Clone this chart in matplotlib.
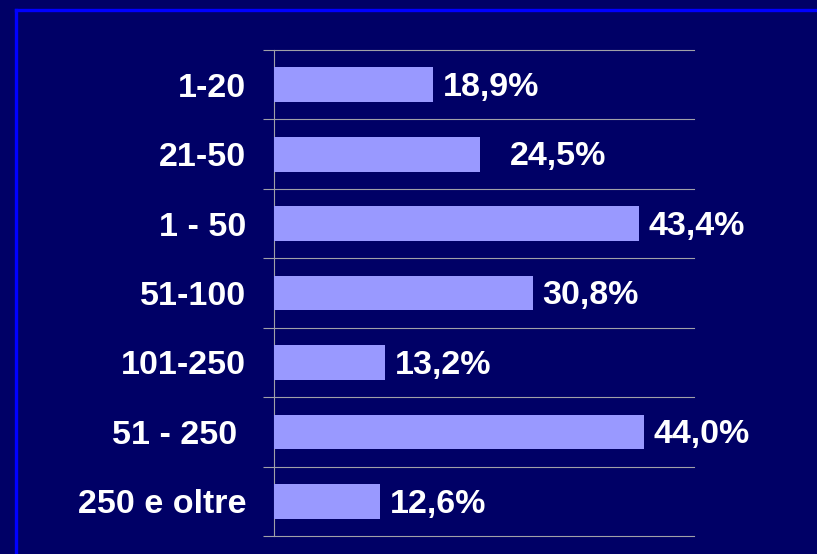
"""
Horizontal bar chart of share by size class, dark slide style
"""
import numpy as np
import matplotlib
matplotlib.use('Agg')
import matplotlib.pyplot as plt
from matplotlib.lines import Line2D

categories = ['1-20', '21-50', '1 - 50', '51-100', '101-250', '51 - 250 ', '250 e oltre']
values = [18.9, 24.5, 43.4, 30.8, 13.2, 44.0, 12.6]
value_labels = ['18,9%', '24,5%', '43,4%', '30,8%', '13,2%', '44,0%', '12,6%']

# label offsets in points (24,5% sits further right in the original)
label_offsets = [7, 22, 7, 7, 7, 7, 7]

bg = '#000066'
bar_color = '#9999ff'
line_color = '#a0a0a8'

plt.rcParams['font.family'] = ['Liberation Sans', 'DejaVu Sans']
plt.rcParams['font.weight'] = 'bold'

fig = plt.figure(figsize=(8.17, 5.54), dpi=100, facecolor=bg)
W, H = 817, 554
ax = fig.add_axes([274 / W, 18 / H, 420 / W, 486 / H], facecolor=bg)

y = np.arange(len(categories))
ax.barh(y, values, height=0.5, color=bar_color, zorder=3)

for yi, v, lab, off in zip(y, values, value_labels, label_offsets):
    ax.annotate(lab, (v, yi), xytext=(off, -2), textcoords='offset points',
                ha='left', va='center', color='white', fontsize=24.5, fontweight='bold')

ax.set_xlim(0, 50)
ax.set_ylim(len(categories) - 0.5, -0.5)
ax.set_xticks([])
ax.set_yticks(y)
ax.set_yticklabels(categories, color='white', fontsize=24.5, fontweight='bold')
ax.set_yticks(np.arange(len(categories) + 1) - 0.5, minor=True)
ax.tick_params(axis='y', which='major', length=0, pad=20)
ax.tick_params(axis='y', which='minor', length=8, width=0.8, color=line_color, direction='out')
ax.grid(axis='y', which='minor', color=line_color, linewidth=0.8, zorder=1)
ax.grid(axis='y', which='major', visible=False)
for t in ax.yaxis.get_minor_ticks():
    t.gridline.set_clip_on(False)

for side in ['top', 'right', 'bottom']:
    ax.spines[side].set_visible(False)
ax.spines['left'].set_color(line_color)
ax.spines['left'].set_linewidth(0.8)

# blue slide frame (top and left edges visible)
fig.add_artist(Line2D([16 / W, 16 / W], [1 - 10 / H, 0], color='#0000ff', lw=2.4,
                      transform=fig.transFigure))
fig.add_artist(Line2D([16 / W, 1], [1 - 10 / H, 1 - 10 / H], color='#0000ff', lw=2.4,
                      transform=fig.transFigure))

fig.savefig('out.png', dpi=100, facecolor=bg)
